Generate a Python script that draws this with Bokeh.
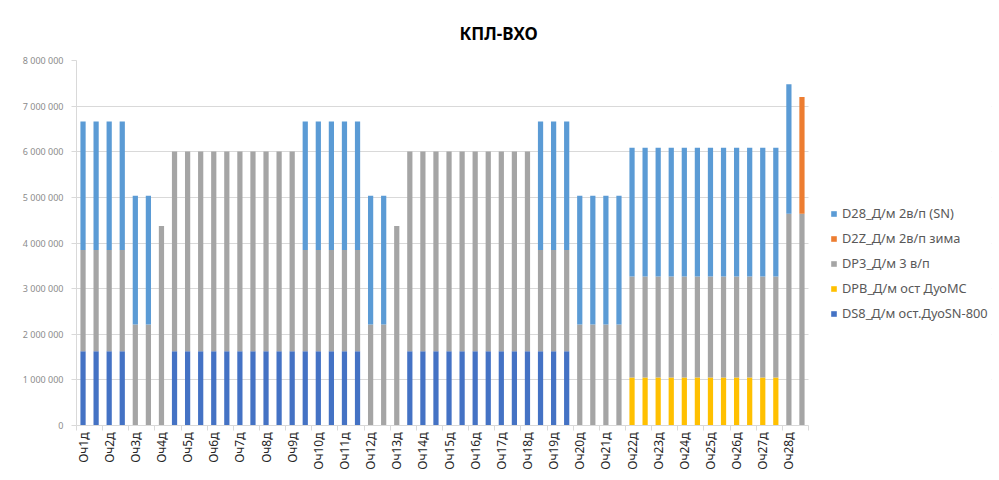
import math
from bokeh.plotting import figure
from bokeh.models import (ColumnDataSource, FixedTicker, Legend, LegendItem,
                          Title, Range1d, BoxAnnotation)
from bokeh.embed import file_html
from bokeh.resources import INLINE

# ---------------- data ----------------
title_text = "КПЛ-ВХО"

# stacking order bottom -> top
series_keys = ["DS8", "DPB", "DP3", "D2Z", "D28"]
series_names = ["DS8_Д/м ост.ДуоSN-800", "DPB_Д/м ост ДуоMC", "DP3_Д/м 3 в/п",
                "D2Z_Д/м 2в/п зима", "D28_Д/м 2в/п (SN)"]
series_colors = ["#4472C4", "#FFC000", "#A5A5A5", "#ED7D31", "#5B9BD5"]

# 56 bars (values in millions)
DS8 = [1.63, 1.63, 1.63, 1.63, 0, 0, 0,
       1.63, 1.63, 1.63, 1.63, 1.63, 1.63, 1.63, 1.63, 1.63, 1.63,
       1.63, 1.63, 1.63, 1.63, 1.63, 0, 0, 0,
       1.63, 1.63, 1.63, 1.63, 1.63, 1.63, 1.63, 1.63, 1.63, 1.63,
       1.63, 1.63, 1.63, 0, 0, 0, 0,
       0, 0, 0, 0, 0, 0, 0, 0, 0, 0, 0, 0, 0, 0]
DPB = [0, 0, 0, 0, 0, 0, 0,
       0, 0, 0, 0, 0, 0, 0, 0, 0, 0,
       0, 0, 0, 0, 0, 0, 0, 0,
       0, 0, 0, 0, 0, 0, 0, 0, 0, 0,
       0, 0, 0, 0, 0, 0, 0,
       1.05, 1.05, 1.05, 1.05, 1.05, 1.05, 1.05, 1.05, 1.05, 1.05, 1.05, 1.05, 0, 0]
DP3 = [2.215, 2.215, 2.215, 2.215, 2.215, 2.215, 4.375,
       4.375, 4.375, 4.375, 4.375, 4.375, 4.375, 4.375, 4.375, 4.375, 4.375,
       2.215, 2.215, 2.215, 2.215, 2.215, 2.215, 2.215, 4.375,
       4.375, 4.375, 4.375, 4.375, 4.375, 4.375, 4.375, 4.375, 4.375, 4.375,
       2.215, 2.215, 2.215, 2.215, 2.215, 2.215, 2.215,
       2.215, 2.215, 2.215, 2.215, 2.215, 2.215, 2.215, 2.215, 2.215, 2.215, 2.215, 2.215,
       4.64, 4.64]
D2Z = [0] * 55 + [2.56]
D28 = [2.82, 2.82, 2.82, 2.82, 2.82, 2.82, 0,
       0, 0, 0, 0, 0, 0, 0, 0, 0, 0,
       2.82, 2.82, 2.82, 2.82, 2.82, 2.82, 2.82, 0,
       0, 0, 0, 0, 0, 0, 0, 0, 0, 0,
       2.82, 2.82, 2.82, 2.82, 2.82, 2.82, 2.82,
       2.82, 2.82, 2.82, 2.82, 2.82, 2.82, 2.82, 2.82, 2.82, 2.82, 2.82, 2.82,
       2.84, 0]

x_labels = ["Оч1д", "Оч2д", "Оч3д", "Оч4д", "Оч5д", "Оч6д", "Оч7д", "Оч8д",
            "Оч9д", "Оч10д", "Оч11д", "Оч12д", "Оч13д", "Оч14д", "Оч15д",
            "Оч16д", "Оч17д", "Оч18д", "Оч19д", "Оч20д", "Оч21д", "Оч22д",
            "Оч23д", "Оч24д", "Оч25д", "Оч26д", "Оч27д", "Оч28д"]

y_ticks = [0, 1, 2, 3, 4, 5, 6, 7, 8]
y_tick_labels = ["0", "1 000 000", "2 000 000", "3 000 000", "4 000 000",
                 "5 000 000", "6 000 000", "7 000 000", "8 000 000"]

# ---------------- figure ----------------
FONT = "Noto Sans"
n = len(DS8)
LEGEND_SPACE = 14  # category widths reserved right of the bars for the legend
xs = [i + 0.5 for i in range(n)]
source = ColumnDataSource(dict(x=xs, DS8=DS8, DPB=DPB, DP3=DP3, D2Z=D2Z, D28=D28))

p = figure(width=999, height=480, output_backend="svg", toolbar_location=None,
           x_range=Range1d(0, n + LEGEND_SPACE), y_range=Range1d(0, y_ticks[-1]),
           min_border_left=76, min_border_right=8, min_border_top=60,
           min_border_bottom=55)
p.outline_line_color = None
p.background_fill_color = "white"
p.border_fill_color = "white"

renderers = p.vbar_stack(series_keys, x="x", width=0.4, source=source,
                         fill_color=series_colors, line_color=None)

# y axis
p.yaxis.ticker = FixedTicker(ticks=y_ticks)
p.yaxis.major_label_overrides = {t: l for t, l in zip(y_ticks, y_tick_labels)}
p.yaxis.axis_line_color = "#D9D9D9"
p.yaxis.major_tick_line_color = "#D9D9D9"
p.yaxis.major_tick_out = 5
p.yaxis.major_tick_in = 0
p.yaxis.minor_tick_line_color = None
p.yaxis.major_label_standoff = 8
p.yaxis.major_label_text_font = FONT
p.yaxis.major_label_text_font_size = "9px"
p.yaxis.major_label_text_color = "#8C8C8C"

# x axis
label_pos = [xs[2 * k] for k in range(len(x_labels))]
p.xaxis.ticker = FixedTicker(ticks=label_pos, minor_ticks=list(range(0, n + 1, 2)))
p.xaxis.bounds = (0, n)
p.xaxis.major_label_overrides = {pos: lab for pos, lab in zip(label_pos, x_labels)}
p.xaxis.major_label_orientation = math.pi / 2
p.xaxis.axis_line_color = "#D9D9D9"
p.xaxis.major_tick_line_color = None
p.xaxis.major_tick_out = 5
p.xaxis.major_tick_in = 0
p.xaxis.minor_tick_line_color = "#D9D9D9"
p.xaxis.minor_tick_out = 5
p.xaxis.minor_tick_in = 0
p.xaxis.major_label_standoff = 2
p.xaxis.major_label_text_font = FONT
p.xaxis.major_label_text_font_size = "12px"
p.xaxis.major_label_text_color = "#262626"

# grid
p.xgrid.visible = False
p.ygrid.ticker = FixedTicker(ticks=y_ticks)
p.ygrid.grid_line_color = "#D9D9D9"
p.ygrid.grid_line_width = 1

# white mask: grid lines stop where the bars end (legend area)
mask = BoxAnnotation(left=n, fill_color="white", fill_alpha=1.0,
                     line_color=None, level="underlay")
p.add_layout(mask)

# title
title = Title(text=title_text, align="left", offset=383, text_font=FONT,
              text_font_style="bold", text_font_size="17px", text_color="#000000",
              standoff=32)
p.add_layout(title, "above")

# legend (reverse order: top of stack first)
items = [LegendItem(label=series_names[i], renderers=[renderers[i]])
         for i in reversed(range(len(series_keys)))]
legend = Legend(items=items, location=(754, 103), padding=0, margin=0,
                border_line_color=None, background_fill_alpha=0,
                label_text_font=FONT, label_text_font_size="12.8px",
                label_text_color="#595959", glyph_width=7, glyph_height=7,
                label_height=16, spacing=7, label_standoff=5)
p.add_layout(legend)

open("out.html", "w").write(file_html(p, INLINE))
